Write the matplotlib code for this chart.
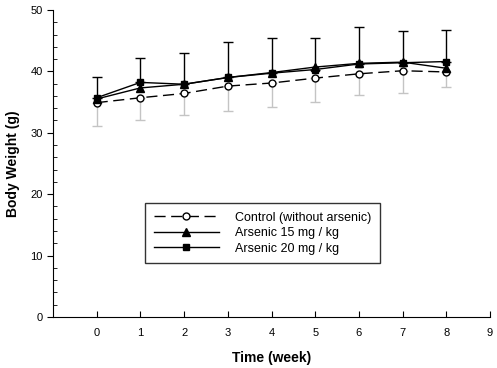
import numpy as np
import matplotlib
matplotlib.use("Agg")
from matplotlib import pyplot as plt
from matplotlib.ticker import MultipleLocator

plt.rcParams['font.family'] = ['Liberation Sans', 'DejaVu Sans']

weeks = [0, 1, 2, 3, 4, 5, 6, 7, 8]
control = [34.9, 35.7, 36.4, 37.6, 38.1, 38.9, 39.6, 40.1, 39.9]
control_sd = [3.8, 3.7, 3.5, 4.0, 3.9, 3.9, 3.5, 3.7, 2.5]
ars15 = [35.5, 37.3, 37.9, 39.0, 39.8, 40.7, 41.3, 41.5, 40.5]
ars20 = [35.7, 38.2, 37.9, 39.0, 39.7, 40.3, 41.2, 41.4, 41.6]
ars20_sd = [3.3, 3.9, 5.1, 5.7, 5.8, 5.2, 6.0, 5.2, 5.2]

fig = plt.figure(figsize=(4.97, 3.68), dpi=100)
ax = fig.add_axes([0.1066, 0.1386, 0.8794, 0.8344])

# error bars: control downward in grey, 20 mg upward in black
ax.errorbar(weeks, control, yerr=[control_sd, np.zeros(9)], fmt='none',
            ecolor='#c4c4c4', elinewidth=1, capsize=3.3, capthick=1, zorder=1)
ax.errorbar(weeks, ars20, yerr=[np.zeros(9), ars20_sd], fmt='none',
            ecolor='black', elinewidth=1, capsize=3.3, capthick=1, zorder=1)

ax.plot(weeks, control, color='black', lw=1, dashes=(8, 4), marker='o',
        mfc='white', mec='black', ms=5, label='Control (without arsenic)', zorder=3)
ax.plot(weeks, ars15, color='black', lw=1, marker='^', ms=5.5,
        label='Arsenic 15 mg / kg', zorder=3)
ax.plot(weeks, ars20, color='black', lw=1, marker='s', ms=5,
        label='Arsenic 20 mg / kg', zorder=3)

ax.set_xlim(-1, 9)
ax.set_ylim(0, 50)
ax.set_xticks(range(0, 10))
ax.yaxis.set_major_locator(MultipleLocator(10))
ax.yaxis.set_minor_locator(MultipleLocator(2))
ax.tick_params(axis='x', direction='in', length=4, labelsize=8, pad=8)
ax.tick_params(axis='y', which='major', direction='out', length=4, labelsize=8)
ax.tick_params(axis='y', which='minor', direction='in', length=3)
for s in ['top', 'right']:
    ax.spines[s].set_visible(False)

ax.set_xlabel('Time (week)', fontsize=10, fontweight='bold', labelpad=9)
ax.set_ylabel('Body Weight (g)', fontsize=10, fontweight='bold', labelpad=7)

leg = ax.legend(loc='upper left', bbox_to_anchor=(0.2105, 0.372), fontsize=9,
                frameon=True, fancybox=False, edgecolor='black',
                handlelength=5.2, handletextpad=1.3, borderpad=0.7,
                labelspacing=0.28, borderaxespad=0)
leg.get_frame().set_linewidth(1)

fig.savefig('out.png', dpi=100)
